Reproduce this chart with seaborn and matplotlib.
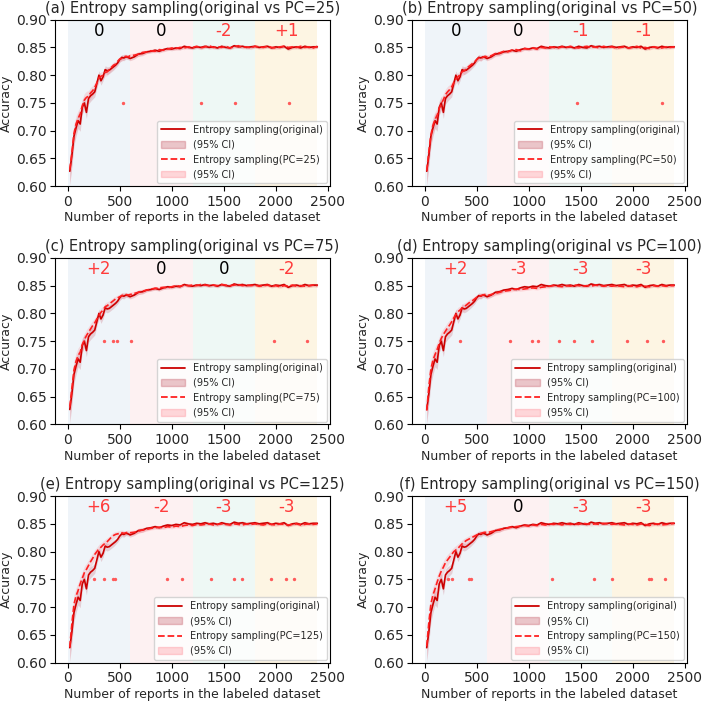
import numpy as np
import pandas as pd
import matplotlib
matplotlib.use('Agg')
import matplotlib.pyplot as plt
import seaborn as sns
from matplotlib.lines import Line2D
from matplotlib.patches import Patch

# number of labeled reports (x grid)
n_reports = [20, 40, 60, 80, 100, 120, 140, 160, 180, 200, 220, 240, 260, 280, 300,
             320, 340, 360, 380, 400, 420, 440, 460, 480, 500, 520, 540, 560, 580, 600,
             640, 680, 720, 760, 800, 840, 880, 920, 960, 1000,
             1040, 1080, 1120, 1160, 1200, 1240, 1280, 1320, 1360, 1400,
             1440, 1480, 1520, 1560, 1600, 1640, 1680, 1720, 1760, 1800,
             1840, 1880, 1920, 1960, 2000, 2040, 2080, 2120, 2160, 2200,
             2240, 2280, 2320, 2360, 2400]

acc_original = [0.627, 0.655, 0.690, 0.705, 0.718, 0.712, 0.742, 0.750, 0.733, 0.758,
                0.763, 0.766, 0.770, 0.785, 0.800, 0.790, 0.797, 0.810, 0.808, 0.809,
                0.812, 0.815, 0.818, 0.822, 0.828, 0.832, 0.831, 0.833, 0.832, 0.830,
                0.833, 0.838, 0.839, 0.842, 0.843, 0.845, 0.843, 0.846, 0.848, 0.847,
                0.849, 0.848, 0.852, 0.850, 0.849, 0.851, 0.850, 0.852, 0.850, 0.851,
                0.849, 0.852, 0.850, 0.849, 0.853, 0.851, 0.852, 0.850, 0.851, 0.852,
                0.850, 0.851, 0.852, 0.849, 0.851, 0.850, 0.852, 0.847, 0.850, 0.851,
                0.849, 0.852, 0.850, 0.851, 0.851]

acc_pc25 = [0.630, 0.660, 0.695, 0.712, 0.722, 0.730, 0.745, 0.755, 0.760, 0.762,
            0.768, 0.772, 0.778, 0.786, 0.795, 0.798, 0.800, 0.805, 0.806, 0.810,
            0.814, 0.818, 0.820, 0.825, 0.829, 0.830, 0.833, 0.834, 0.833, 0.835,
            0.836, 0.838, 0.841, 0.842, 0.844, 0.843, 0.846, 0.845, 0.847, 0.849,
            0.848, 0.850, 0.849, 0.851, 0.850, 0.852, 0.849, 0.851, 0.853, 0.850,
            0.851, 0.850, 0.852, 0.849, 0.851, 0.853, 0.850, 0.851, 0.849, 0.852,
            0.851, 0.850, 0.852, 0.850, 0.849, 0.851, 0.852, 0.850, 0.851, 0.850,
            0.852, 0.850, 0.851, 0.849, 0.852]

acc_pc50 = [0.628, 0.662, 0.692, 0.710, 0.720, 0.728, 0.740, 0.748, 0.756, 0.765,
            0.770, 0.774, 0.779, 0.787, 0.793, 0.797, 0.801, 0.806, 0.808, 0.811,
            0.815, 0.818, 0.821, 0.824, 0.828, 0.831, 0.830, 0.832, 0.834, 0.833,
            0.835, 0.839, 0.840, 0.843, 0.842, 0.845, 0.846, 0.844, 0.848, 0.847,
            0.849, 0.847, 0.850, 0.849, 0.851, 0.850, 0.849, 0.851, 0.850, 0.852,
            0.850, 0.849, 0.851, 0.852, 0.850, 0.851, 0.849, 0.852, 0.850, 0.851,
            0.849, 0.850, 0.851, 0.849, 0.850, 0.852, 0.849, 0.850, 0.848, 0.851,
            0.850, 0.849, 0.851, 0.850, 0.851]

acc_pc75 = [0.632, 0.665, 0.698, 0.714, 0.724, 0.730, 0.744, 0.752, 0.760, 0.766,
            0.772, 0.778, 0.783, 0.790, 0.796, 0.802, 0.806, 0.812, 0.814, 0.817,
            0.820, 0.823, 0.826, 0.828, 0.830, 0.832, 0.833, 0.834, 0.833, 0.834,
            0.836, 0.838, 0.840, 0.842, 0.844, 0.845, 0.846, 0.847, 0.846, 0.848,
            0.850, 0.849, 0.851, 0.850, 0.851, 0.850, 0.852, 0.851, 0.850, 0.851,
            0.850, 0.852, 0.851, 0.850, 0.851, 0.852, 0.850, 0.851, 0.850, 0.851,
            0.849, 0.850, 0.851, 0.849, 0.850, 0.848, 0.850, 0.849, 0.851, 0.849,
            0.850, 0.849, 0.850, 0.851, 0.850]

acc_pc100 = [0.625, 0.668, 0.700, 0.716, 0.726, 0.735, 0.746, 0.755, 0.762, 0.768,
             0.774, 0.779, 0.785, 0.792, 0.798, 0.803, 0.806, 0.810, 0.812, 0.815,
             0.818, 0.821, 0.823, 0.826, 0.829, 0.831, 0.832, 0.833, 0.834, 0.832,
             0.834, 0.836, 0.838, 0.840, 0.841, 0.842, 0.844, 0.843, 0.844, 0.845,
             0.846, 0.845, 0.847, 0.848, 0.849, 0.850, 0.849, 0.848, 0.850, 0.849,
             0.851, 0.850, 0.849, 0.850, 0.849, 0.851, 0.850, 0.849, 0.850, 0.849,
             0.850, 0.849, 0.848, 0.850, 0.849, 0.848, 0.850, 0.849, 0.848, 0.850,
             0.849, 0.850, 0.849, 0.850, 0.850]

acc_pc125 = [0.628, 0.670, 0.705, 0.720, 0.730, 0.742, 0.752, 0.762, 0.768, 0.775,
             0.782, 0.788, 0.795, 0.800, 0.805, 0.808, 0.812, 0.815, 0.818, 0.822,
             0.826, 0.829, 0.831, 0.832, 0.833, 0.834, 0.833, 0.834, 0.835, 0.834,
             0.835, 0.837, 0.839, 0.840, 0.842, 0.843, 0.844, 0.843, 0.845, 0.844,
             0.846, 0.845, 0.847, 0.848, 0.847, 0.849, 0.848, 0.849, 0.850, 0.848,
             0.849, 0.850, 0.849, 0.848, 0.850, 0.849, 0.848, 0.850, 0.849, 0.850,
             0.849, 0.848, 0.850, 0.849, 0.848, 0.850, 0.849, 0.848, 0.849, 0.850,
             0.848, 0.849, 0.850, 0.849, 0.850]

acc_pc150 = [0.630, 0.672, 0.706, 0.722, 0.733, 0.745, 0.756, 0.765, 0.772, 0.780,
             0.785, 0.790, 0.795, 0.800, 0.803, 0.806, 0.810, 0.814, 0.817, 0.820,
             0.822, 0.824, 0.826, 0.828, 0.830, 0.832, 0.833, 0.834, 0.835, 0.834,
             0.836, 0.838, 0.840, 0.841, 0.843, 0.844, 0.845, 0.846, 0.847, 0.846,
             0.848, 0.847, 0.849, 0.848, 0.850, 0.849, 0.850, 0.848, 0.850, 0.849,
             0.850, 0.849, 0.851, 0.850, 0.849, 0.850, 0.849, 0.851, 0.850, 0.849,
             0.850, 0.849, 0.848, 0.850, 0.849, 0.848, 0.850, 0.849, 0.847, 0.849,
             0.850, 0.848, 0.849, 0.850, 0.851]

# half width of the 95% CI bands
ci_half = [0.025, 0.020, 0.017, 0.015, 0.014, 0.013, 0.012, 0.012, 0.011, 0.010,
           0.010, 0.009, 0.009, 0.008, 0.008, 0.008, 0.007, 0.007, 0.007, 0.006,
           0.006, 0.006, 0.005, 0.005, 0.005, 0.005, 0.005, 0.004, 0.004, 0.004,
           0.004, 0.004, 0.004, 0.003, 0.003, 0.003, 0.003, 0.003, 0.003, 0.003,
           0.003, 0.003, 0.003, 0.003, 0.003, 0.003, 0.003, 0.003, 0.003, 0.003,
           0.003, 0.003, 0.003, 0.003, 0.003, 0.003, 0.003, 0.003, 0.003, 0.003,
           0.003, 0.003, 0.003, 0.003, 0.003, 0.003, 0.003, 0.003, 0.003, 0.003,
           0.003, 0.003, 0.003, 0.003, 0.003]

pc_values = [25, 50, 75, 100, 125, 150]
pc_series = [acc_pc25, acc_pc50, acc_pc75, acc_pc100, acc_pc125, acc_pc150]
panel_letters = ['a', 'b', 'c', 'd', 'e', 'f']
region_diffs = [[0, 0, -2, 1], [0, 0, -1, -1], [2, 0, 0, -2],
                [2, -3, -3, -3], [6, -2, -3, -3], [5, 0, -3, -3]]
sig_points = [[535, 1283, 1608, 2127],
              [1468, 2286],
              [352, 432, 476, 607, 1979, 2302],
              [339, 821, 1034, 1092, 1293, 1440, 1612, 1944, 2142, 2289],
              [256, 352, 432, 457, 956, 1103, 1375, 1602, 1675, 1956, 2100, 2171],
              [225, 263, 424, 449, 1226, 1627, 1804, 2157, 2179, 2307]]

region_edges = [0, 600, 1200, 1800, 2400]
region_colors = ['#eff4f9', '#fdf1f2', '#eef8f5', '#fdf5e3']

sns.set_style('ticks')
plt.rcParams['font.family'] = ['DejaVu Sans']
plt.rcParams['axes.edgecolor'] = 'black'

orig_color = '#cc0000'
pc_color = '#ff2020'

fig, axes = plt.subplots(3, 2, figsize=(7.08, 7.02), dpi=100)
plt.subplots_adjust(left=0.078, right=0.97, top=0.972, bottom=0.056, wspace=0.30, hspace=0.43)

x = np.array(n_reports)
y0 = np.array(acc_original)
ci = np.array(ci_half)

for i, ax in enumerate(axes.flat):
    for k in range(4):
        ax.axvspan(region_edges[k], region_edges[k + 1], color=region_colors[k], lw=0, zorder=0)
    y1 = np.array(pc_series[i])
    ax.fill_between(x, y0 - ci, y0 + ci, color='#b22234', alpha=0.18, lw=0)
    ax.fill_between(x, y1 - ci, y1 + ci, color='#ff4050', alpha=0.15, lw=0)
    sns.lineplot(x=x, y=y0, ax=ax, color=orig_color, lw=1.2)
    sns.lineplot(x=x, y=y1, ax=ax, color=pc_color, lw=1.2, linestyle='--')
    ax.scatter(sig_points[i], [0.75] * len(sig_points[i]), s=2, color='#ff5a5a', zorder=3)
    for k in range(4):
        d = region_diffs[i][k]
        txt = '0' if d == 0 else ('+%d' % d if d > 0 else '%d' % d)
        ax.text((region_edges[k] + region_edges[k + 1]) / 2, 0.88, txt, ha='center', va='center',
                fontsize=12, color='black' if d == 0 else '#ff3b3b')
    ax.set_ylim(0.60, 0.90)
    ax.set_yticks([0.60, 0.65, 0.70, 0.75, 0.80, 0.85, 0.90])
    ax.set_xticks([0, 500, 1000, 1500, 2000, 2500])
    ax.tick_params(labelsize=10, length=3.5, color='black', pad=2.5)
    ax.set_xlabel('Number of reports in the labeled dataset', fontsize=9, labelpad=2)
    ax.set_ylabel('Accuracy', fontsize=9, labelpad=2)
    ax.set_title('(%s) Entropy sampling(original vs PC=%d)' % (panel_letters[i], pc_values[i]),
                 fontsize=10.5, pad=5)
    handles = [Line2D([], [], color=orig_color, lw=1.3),
               Patch(facecolor='#b22234', alpha=0.25, edgecolor='#b22234'),
               Line2D([], [], color=pc_color, lw=1.3, linestyle='--'),
               Patch(facecolor='#ff4050', alpha=0.2, edgecolor='#ff4050')]
    labels = ['Entropy sampling(original)', '(95% CI)',
              'Entropy sampling(PC=%d)' % pc_values[i], '(95% CI)']
    ax.legend(handles, labels, loc='lower right', fontsize=7, frameon=True,
              borderaxespad=0.3, handlelength=2.5, labelspacing=0.5)

fig.savefig('out.png', dpi=100)
